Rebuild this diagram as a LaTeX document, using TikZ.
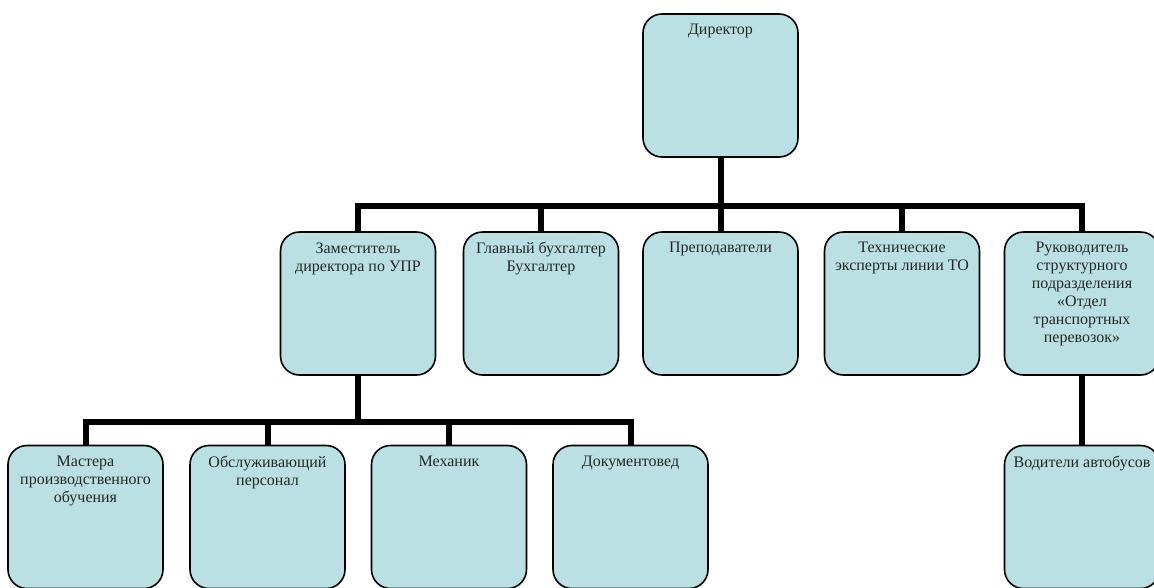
\documentclass[tikz,border=0pt]{standalone}
\usepackage{fontspec}
\setmainfont{Liberation Serif}
\usetikzlibrary{positioning}

\begin{document}
\begin{tikzpicture}[x=1pt,y=-1pt,
   box/.style={rectangle,draw,line width=1.6pt,rounded corners=19pt,
    fill=boxfill,minimum width=155pt,minimum height=143pt,inner sep=0pt},
   txt/.style={align=center,inner sep=2pt,text=black!85,
    font=\fontsize{16}{18}\selectfont},
   conn/.style={line width=6pt,line join=miter}
    ]
    \definecolor{boxfill}{RGB}{186,224,227}
    \useasboundingbox (0,0) rectangle (1154,587);

    % Boxes:
    \node[box] at (720.5,85.5) (dir) {};
    \node[box] at (358,303.5) (zam) {};
    \node[box] at (541,303.5) (buh) {};
    \node[box] at (720.5,303.5) (prep) {};
    \node[box] at (902,303.5) (teh) {};
    \node[box] at (1082,303.5) (ruk) {};
    \node[box] at (85.5,517) (mas) {};
    \node[box] at (267.5,517) (obs) {};
    \node[box] at (449,517) (meh) {};
    \node[box] at (630.5,517) (dok) {};
    \node[box] at (1082,517) (vod) {};

    % Texts:
    \node[txt,below=9pt of dir.north] (dirt) {Директор};
    \node[txt,below=9pt of zam.north] (zamt) {Заместитель\\директора по УПР};
    \node[txt,below=9pt of buh.north] (buht) {Главный бухгалтер\\Бухгалтер};
    \node[txt,below=9pt of prep.north] (prept) {Преподаватели};
    \node[txt,below=9pt of teh.north] (teht) {Технические\\эксперты линии ТО};
    \node[txt,below=9pt of ruk.north] (rukt) {Руководитель\\структурного\\подразделения\\«Отдел\\транспортных\\перевозок»};
    \node[txt,below=9pt of mas.north] (mast) {Мастера\\производственного\\обучения};
    \node[txt,below=9pt of obs.north] (obst) {Обслуживающий\\персонал};
    \node[txt,below=9pt of meh.north] (meht) {Механик};
    \node[txt,below=9pt of dok.north] (dokt) {Документовед};
    \node[txt,below=9pt of vod.north] (vodt) {Водители автобусов};

    % bus levels
    \coordinate (b1) at (0,206);
    \coordinate (b2) at (0,422);

    % lines
    \draw[conn] (dir.south) -- (dir.south |- b1);
    \draw[conn] (zam.north) |- (b1 -| ruk.north) -- (ruk.north);
    \foreach \n in {buh,prep,teh}
      \draw[conn] (\n.north) -- (\n.north |- b1);

    \draw[conn] (zam.south) -- (zam.south |- b2);
    \draw[conn] (mas.north) |- (b2 -| dok.north) -- (dok.north);
    \foreach \n in {obs,meh}
      \draw[conn] (\n.north) -- (\n.north |- b2);

    \draw[conn] (ruk.south) -- (vod.north); % to the drivers

\end{tikzpicture}
\end{document}
